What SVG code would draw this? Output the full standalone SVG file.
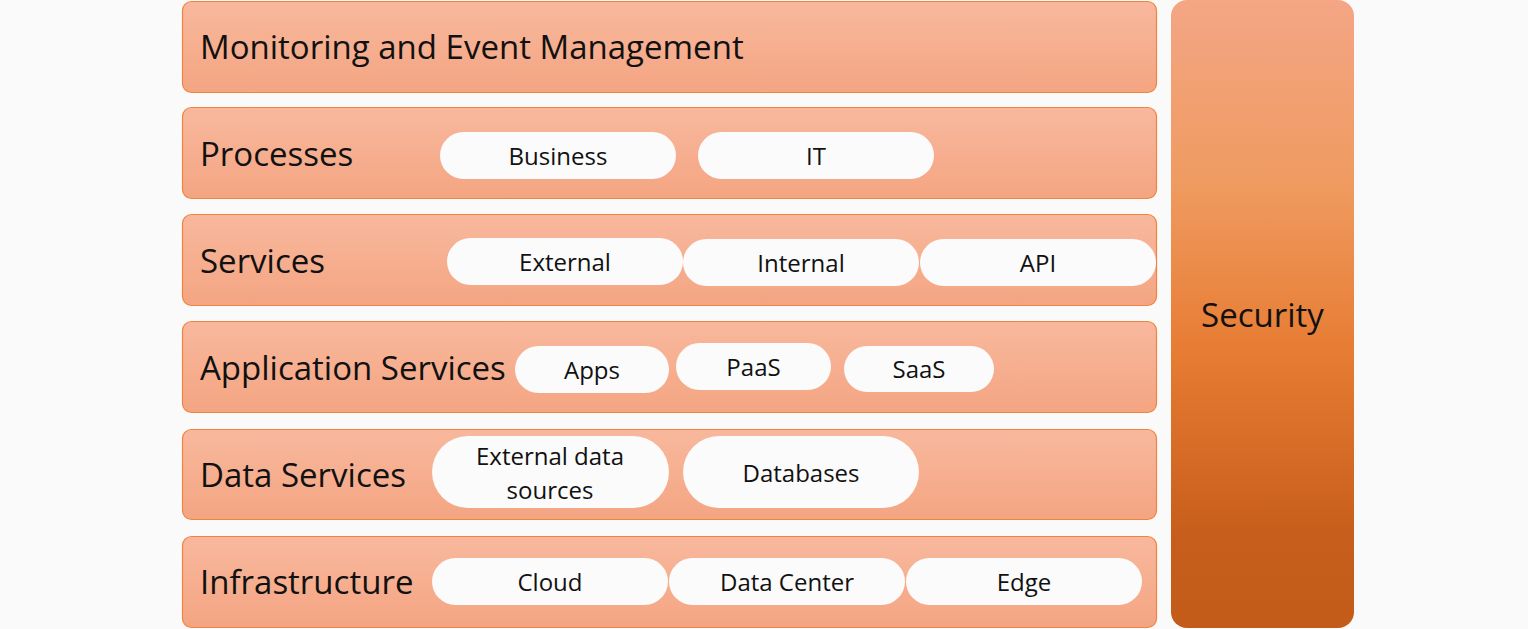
<svg xmlns="http://www.w3.org/2000/svg" width="1528" height="629" viewBox="0 0 1528 629">
<defs>
<linearGradient id="rowg" x1="0" y1="0" x2="0" y2="1">
<stop offset="0" stop-color="#f8b89d"/>
<stop offset="1" stop-color="#f4a582"/>
</linearGradient>
<linearGradient id="secg" x1="0" y1="0" x2="0" y2="1">
<stop offset="0" stop-color="#f4a685"/>
<stop offset="0.3" stop-color="#ef9a5f"/>
<stop offset="0.56" stop-color="#e77c33"/>
<stop offset="0.85" stop-color="#c75e1b"/>
<stop offset="1" stop-color="#c35c19"/>
</linearGradient>
<style>
.row{fill:url(#rowg);stroke:#f0833e;stroke-width:1.2}
.pill{fill:#fbfbfb}
.h{font-family:"Open Sans","Noto Sans",sans-serif;font-size:33px;fill:#111;dominant-baseline:central}
.p{font-family:"Open Sans","Noto Sans",sans-serif;font-size:24px;fill:#111;text-anchor:middle;dominant-baseline:central}
</style>
</defs>
<rect width="1528" height="629" fill="#fafafa"/>
<g id="monitoring">
<rect class="row" x="182.5" y="1.5" width="974" height="91" rx="9"/>
<text class="h" x="200" y="46">Monitoring and Event Management</text>
</g>
<g id="processes">
<rect class="row" x="182.5" y="107.5" width="974" height="91" rx="9"/>
<text class="h" x="200" y="153">Processes</text>
<g id="business"><rect class="pill" x="440" y="132" width="236" height="47" rx="23.5"/><text class="p" x="558" y="155">Business</text></g>
<g id="it"><rect class="pill" x="698" y="132" width="236" height="47" rx="23.5"/><text class="p" x="816" y="155">IT</text></g>
</g>
<g id="services">
<rect class="row" x="182.5" y="214.5" width="974" height="91" rx="9"/>
<text class="h" x="200" y="260">Services</text>
<g id="external"><rect class="pill" x="447" y="238" width="236" height="47" rx="23.5"/><text class="p" x="565" y="261">External</text></g>
<g id="internal"><rect class="pill" x="683" y="239" width="236" height="47" rx="23.5"/><text class="p" x="801" y="262">Internal</text></g>
<g id="api"><rect class="pill" x="920" y="239" width="236" height="47" rx="23.5"/><text class="p" x="1038" y="262">API</text></g>
</g>
<g id="application-services">
<rect class="row" x="182.5" y="321.5" width="974" height="91" rx="9"/>
<text class="h" x="200" y="367">Application Services</text>
<g id="apps"><rect class="pill" x="515" y="346" width="154" height="47" rx="23.5"/><text class="p" x="592" y="369">Apps</text></g>
<g id="paas"><rect class="pill" x="676" y="343" width="155" height="47" rx="23.5"/><text class="p" x="753.500" y="366">PaaS</text></g>
<g id="saas"><rect class="pill" x="844" y="346" width="150" height="46" rx="23"/><text class="p" x="919" y="368">SaaS</text></g>
</g>
<g id="data-services">
<rect class="row" x="182.5" y="429.5" width="974" height="90" rx="9"/>
<text class="h" x="200" y="474">Data Services</text>
<g id="external-data"><rect class="pill" x="432" y="436" width="237" height="72" rx="36"/><text class="p" x="550" y="455">External data</text><text class="p" x="550" y="489">sources</text></g>
<g id="databases"><rect class="pill" x="683" y="436" width="236" height="72" rx="36"/><text class="p" x="801" y="472">Databases</text></g>
</g>
<g id="infrastructure">
<rect class="row" x="182.5" y="536.5" width="974" height="91" rx="9"/>
<text class="h" x="200" y="581">Infrastructure</text>
<g id="cloud"><rect class="pill" x="432" y="558" width="236" height="47" rx="23.5"/><text class="p" x="550" y="581">Cloud</text></g>
<g id="data-center"><rect class="pill" x="669" y="558" width="236" height="47" rx="23.5"/><text class="p" x="787" y="581">Data Center</text></g>
<g id="edge"><rect class="pill" x="906" y="558" width="236" height="47" rx="23.5"/><text class="p" x="1024" y="581">Edge</text></g>
</g>
<g id="security">
<rect x="1171" y="0" width="183" height="628" rx="16" fill="url(#secg)"/>
<text class="h" x="1262.500" y="314" text-anchor="middle">Security</text>
</g>
<g id="connectors"/>
</svg>
